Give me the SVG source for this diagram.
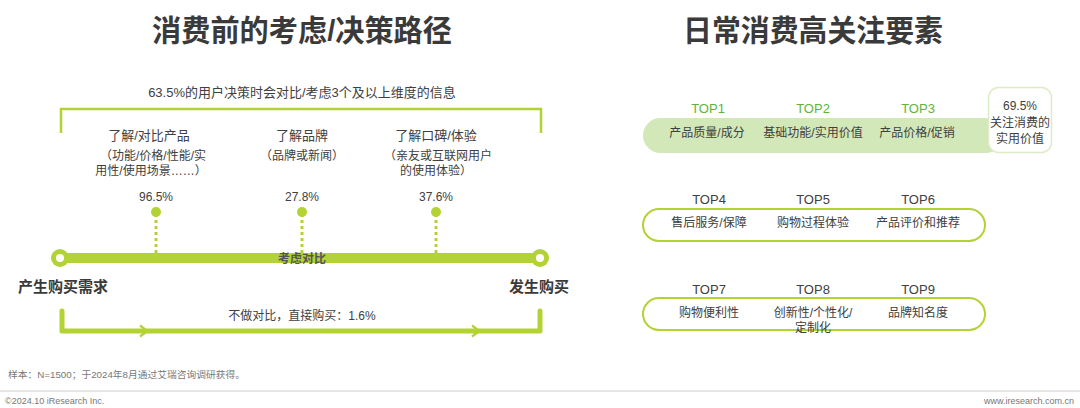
<svg xmlns="http://www.w3.org/2000/svg" width="1080" height="408" viewBox="0 0 1080 408">
<style>
text{font-family:"Liberation Sans","Noto Sans CJK SC",sans-serif;fill:#404040;text-anchor:middle;dominant-baseline:central}
.title{font-size:30px;font-weight:bold;fill:#3a3a3a}
.t13{font-size:13px}
.t12{font-size:12px}
.b15{font-size:15px;font-weight:bold;fill:#3a3a3a}
.top{font-size:13px}
.topg{font-size:13px;fill:#5eb53a}
.foot{font-size:9px;fill:#777;text-anchor:start}
.g{stroke:#b3d334;fill:none}
</style>
<rect width="1080" height="408" fill="#fff"/>

<g id="titles">
<text class="title" x="302" y="30" textLength="300" lengthAdjust="spacingAndGlyphs">消费前的考虑/决策路径</text>
<text class="title" x="813" y="30" textLength="260" lengthAdjust="spacingAndGlyphs">日常消费高关注要素</text>
</g>

<g id="left-header">
<text class="t13" x="302" y="92">63.5%的用户决策时会对比/考虑3个及以上维度的信息</text>
<path class="g" stroke-width="2.5" d="M61,133 V109 H541 V133"/>
</g>

<g id="connectors">
<line class="g" x1="60" y1="258" x2="540" y2="258" stroke-width="10"/>
<line class="g" x1="156" y1="214" x2="156" y2="253" stroke-width="3" stroke-dasharray="3,3"/>
<line class="g" x1="302" y1="214" x2="302" y2="253" stroke-width="3" stroke-dasharray="3,3"/>
<line class="g" x1="436" y1="214" x2="436" y2="253" stroke-width="3" stroke-dasharray="3,3"/>
<path class="g" stroke-width="5" stroke-linecap="round" stroke-linejoin="round" d="M62,311 V331 H540 V311"/>
<path class="g" stroke-width="2.2" d="M140,325.5 L147.5,331 L140,336.5"/>
<path class="g" stroke-width="2.2" d="M472,325.5 L479.5,331 L472,336.5"/>
</g>

<g id="start-node">
<circle cx="60" cy="258" r="9" fill="#b3d334"/>
<circle cx="60" cy="258" r="4" fill="#fff"/>
<text class="b15" x="63" y="286">产生购买需求</text>
</g>
<g id="end-node">
<circle cx="540" cy="258" r="9" fill="#b3d334"/>
<circle cx="540" cy="258" r="4" fill="#fff"/>
<text class="b15" x="539" y="286">发生购买</text>
</g>
<g id="compare-label">
<text x="302" y="259" style="font-size:12px;font-weight:bold;fill:#555">考虑对比</text>
</g>

<g id="step-product">
<text class="t13" x="149" y="135">了解/对比产品</text>
<text class="t12" x="153" y="156">（功能/价格/性能/实</text>
<text class="t12" x="151" y="171">用性/使用场景……）</text>
<text class="t12" x="156" y="197">96.5%</text>
<circle cx="156" cy="212" r="5" fill="#b3d334"/>
</g>
<g id="step-brand">
<text class="t13" x="302" y="135">了解品牌</text>
<text class="t12" x="302" y="156">（品牌或新闻）</text>
<text class="t12" x="302" y="197">27.8%</text>
<circle cx="302" cy="212" r="5" fill="#b3d334"/>
</g>
<g id="step-review">
<text class="t13" x="436" y="135">了解口碑/体验</text>
<text class="t12" x="438" y="156">（亲友或互联网用户</text>
<text class="t12" x="436" y="171">的使用体验）</text>
<text class="t12" x="436" y="197">37.6%</text>
<circle cx="436" cy="212" r="5" fill="#b3d334"/>
</g>
<g id="direct-label">
<text class="t12" x="302" y="316">不做对比，直接购买：1.6%</text>
</g>

<g id="row1">
<rect x="643" y="118" width="360" height="35" rx="17.5" fill="#d3e8b8"/>
<rect x="988.5" y="87.5" width="63" height="65" rx="10" fill="#fff" stroke="#dcecc6" stroke-width="1.5"/>
<text class="topg" x="708" y="108">TOP1</text>
<text class="topg" x="813" y="108">TOP2</text>
<text class="topg" x="918" y="108">TOP3</text>
<text class="t12" x="707" y="133">产品质量/成分</text>
<text class="t12" x="813" y="133">基础功能/实用价值</text>
<text class="t12" x="917" y="133">产品价格/促销</text>
<text class="t12" x="1020" y="106">69.5%</text>
<text class="t12" x="1020" y="123">关注消费的</text>
<text class="t12" x="1020" y="139">实用价值</text>
</g>

<g id="row2">
<rect class="g" x="643" y="209" width="342" height="32" rx="16" stroke-width="2"/>
<text class="top" x="709" y="199">TOP4</text>
<text class="top" x="813" y="199">TOP5</text>
<text class="top" x="918" y="199">TOP6</text>
<text class="t12" x="709" y="223">售后服务/保障</text>
<text class="t12" x="813" y="223">购物过程体验</text>
<text class="t12" x="918" y="223">产品评价和推荐</text>
</g>

<g id="row3">
<rect class="g" x="643" y="298" width="342" height="32" rx="16" stroke-width="2"/>
<text class="top" x="709" y="289">TOP7</text>
<text class="top" x="813" y="289">TOP8</text>
<text class="top" x="918" y="289">TOP9</text>
<text class="t12" x="709" y="313">购物便利性</text>
<text class="t12" x="813" y="313">创新性/个性化/</text>
<text class="t12" x="813" y="328">定制化</text>
<text class="t12" x="918" y="313">品牌知名度</text>
</g>

<g id="footer">
<text class="foot" x="8" y="375" textLength="237" lengthAdjust="spacingAndGlyphs">样本：N=1500；于2024年8月通过艾瑞咨询调研获得。</text>
<line x1="0" y1="391" x2="1080" y2="391" stroke="#ccc" stroke-width="1"/>
<text class="foot" x="5" y="401">©2024.10 iResearch Inc.</text>
<text class="foot" x="1074" y="401" style="text-anchor:end">www.iresearch.com.cn</text>
</g>
</svg>
